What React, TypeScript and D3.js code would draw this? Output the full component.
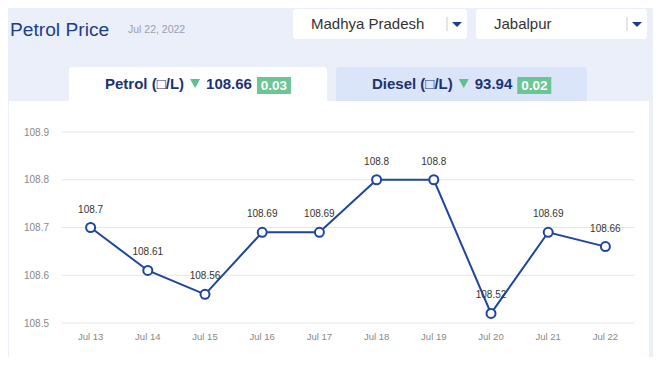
import React, { useRef, useEffect } from "react";
import * as d3 from "d3";

const dates = ["Jul 13", "Jul 14", "Jul 15", "Jul 16", "Jul 17", "Jul 18", "Jul 19", "Jul 20", "Jul 21", "Jul 22"];
const prices = [108.7, 108.61, 108.56, 108.69, 108.69, 108.8, 108.8, 108.52, 108.69, 108.66];
const yTicks = [108.5, 108.6, 108.7, 108.8, 108.9];

const App = () => {
  const svgRef = useRef<SVGSVGElement>(null);

  useEffect(() => {
    const svg = d3.select(svgRef.current);
    svg.selectAll("*").remove();
    const font = "Arial, 'Liberation Sans', sans-serif";

    // page background
    svg.append("rect").attr("width", 661).attr("height", 365).attr("fill", "#ebeff9");

    // header
    svg.append("text").attr("x", 10).attr("y", 36).attr("font-family", font)
      .attr("font-size", 19.2).attr("fill", "#1d3d8c").text("Petrol Price");
    svg.append("text").attr("x", 128).attr("y", 33).attr("font-family", font)
      .attr("font-size", 10.5).attr("fill", "#9aa0ad").text("Jul 22, 2022");

    // dropdowns
    const drops = [
      { x: 293, w: 174, label: "Madhya Pradesh" },
      { x: 476, w: 171, label: "Jabalpur" },
    ];
    drops.forEach((d) => {
      const g = svg.append("g").attr("transform", `translate(${d.x},9)`);
      g.append("rect").attr("width", d.w).attr("height", 30).attr("rx", 3).attr("fill", "#fff");
      g.append("text").attr("x", 18).attr("y", 20).attr("font-family", font)
        .attr("font-size", 15).attr("fill", "#333").text(d.label);
      g.append("line").attr("x1", d.w - 20).attr("x2", d.w - 20).attr("y1", 8).attr("y2", 22)
        .attr("stroke", "#ccc");
      g.append("path").attr("d", `M${d.w - 15},13 L${d.w - 5},13 L${d.w - 10},18 Z`).attr("fill", "#1d3d8c");
    });

    // tabs
    const tabs = [
      { x: 69, w: 258, label: "Petrol (□/L)", price: "108.66", change: "0.03", fill: "#ffffff", tx: 105 },
      { x: 336, w: 251, label: "Diesel (□/L)", price: "93.94", change: "0.02", fill: "#dbe5f9", tx: 372 },
    ];
    tabs.forEach((t) => {
      svg.append("rect").attr("x", t.x).attr("y", 67).attr("width", t.w).attr("height", 38)
        .attr("rx", 3).attr("fill", t.fill);
      const txt = svg.append("text").attr("x", t.tx).attr("y", 89).attr("font-family", font)
        .attr("font-size", 15).attr("font-weight", "bold").attr("fill", "#1d3370");
      txt.append("tspan").text(t.label);
      const lw = (txt.node() as SVGTextElement).getComputedTextLength();
      const ax = t.tx + lw + 6;
      svg.append("path").attr("d", `M${ax},79 L${ax + 10},79 L${ax + 5},88 Z`).attr("fill", "#5dc08d");
      const pt = svg.append("text").attr("x", ax + 16).attr("y", 89).attr("font-family", font)
        .attr("font-size", 15).attr("font-weight", "bold").attr("fill", "#1d3370").text(t.price);
      const pw = (pt.node() as SVGTextElement).getComputedTextLength();
      const bx = ax + 16 + pw + 5;
      svg.append("rect").attr("x", bx).attr("y", 77).attr("width", 34).attr("height", 17).attr("fill", "#6cc594");
      svg.append("text").attr("x", bx + 17).attr("y", 90).attr("text-anchor", "middle").attr("font-family", font)
        .attr("font-size", 13.5).attr("font-weight", "bold").attr("fill", "#fff").text(t.change);
    });

    // chart panel
    svg.append("rect").attr("x", 9).attr("y", 101).attr("width", 640).attr("height", 257).attr("fill", "#fff");

    const x = d3.scalePoint().domain(dates).range([62, 634]).padding(0.5);
    const y = d3.scaleLinear().domain([108.5, 108.9]).range([323, 132]);

    const grid = svg.append("g");
    yTicks.forEach((v) => {
      grid.append("line").attr("x1", 62).attr("x2", 634).attr("y1", y(v)).attr("y2", y(v))
        .attr("stroke", "#e6e6e6").attr("stroke-width", 1);
      grid.append("text").attr("x", 24).attr("y", y(v) + 3.5).attr("font-family", font)
        .attr("font-size", 10).attr("fill", "#888").text(d3.format(".1f")(v));
    });

    svg.append("g").selectAll("text").data(dates).enter().append("text")
      .attr("x", (d) => x(d)!).attr("y", 340).attr("text-anchor", "middle").attr("font-family", font)
      .attr("font-size", 9.5).attr("fill", "#888").text((d) => d);

    const pts = dates.map((d, i) => ({ d, v: prices[i] }));
    const line = d3.line<{ d: string; v: number }>().x((p) => x(p.d)!).y((p) => y(p.v));
    svg.append("path").datum(pts).attr("d", line).attr("fill", "none")
      .attr("stroke", "#1f4698").attr("stroke-width", 2);

    svg.append("g").selectAll("circle").data(pts).enter().append("circle")
      .attr("cx", (p) => x(p.d)!).attr("cy", (p) => y(p.v)).attr("r", 4.5)
      .attr("fill", "#fff").attr("stroke", "#1f4698").attr("stroke-width", 2);

    svg.append("g").selectAll("text").data(pts).enter().append("text")
      .attr("x", (p) => x(p.d)!).attr("y", (p) => y(p.v) - 15).attr("text-anchor", "middle")
      .attr("font-family", font).attr("font-size", 10).attr("fill", "#333").text((p) => String(p.v));
  }, []);

  return (
    <div style={{ margin: -8 }}>
      <svg ref={svgRef} width={661} height={365} style={{ display: "block" }}></svg>
    </div>
  );
};

export default App;
